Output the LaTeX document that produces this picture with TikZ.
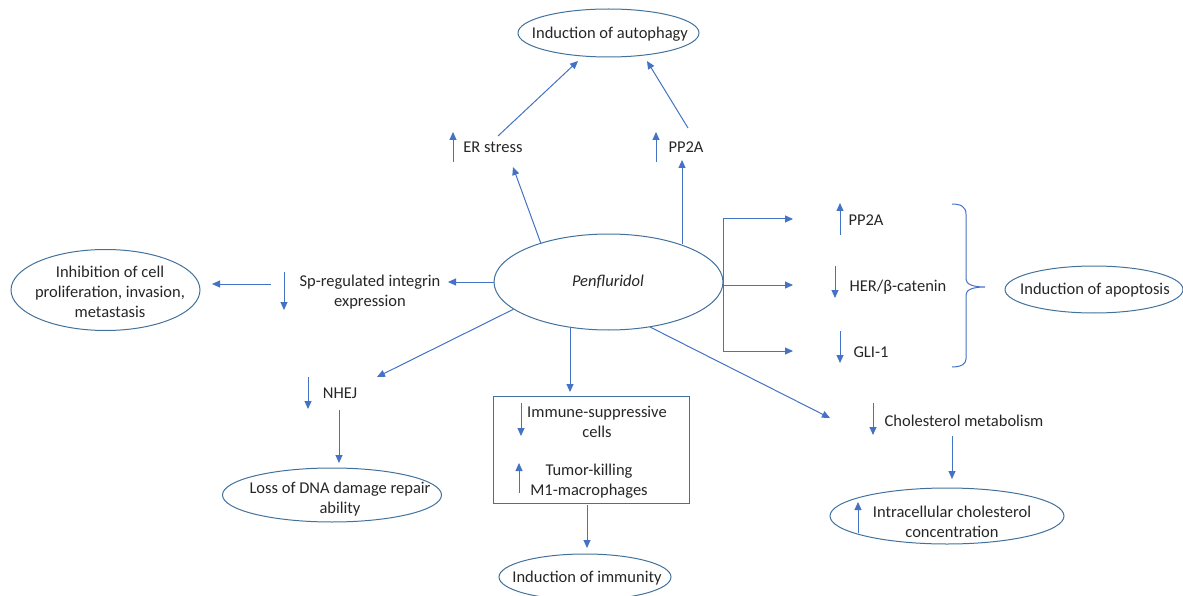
\documentclass[tikz,border=0pt]{standalone}
\usepackage{fontspec}
\setmainfont{Carlito}
\usetikzlibrary{arrows.meta,shapes.geometric,calc}
\definecolor{lblue}{HTML}{4472C4}
\definecolor{eblue}{HTML}{41719C}
\definecolor{txt}{HTML}{262626}
\begin{document}
\begin{tikzpicture}[x=1pt,y=-1pt,
  font=\fontsize{16.5}{20}\selectfont, text=txt,
  conn/.style={draw=lblue, line width=1pt},
  arr/.style={conn, -{Triangle[length=8pt,width=7pt]}},
  oval/.style={ellipse, draw=eblue, line width=1pt, inner sep=0pt},
  lbl/.style={inner sep=0pt, align=center}]
\useasboundingbox (0,0) rectangle (1183,596);

% ellipses
\node[oval, minimum width=181pt, minimum height=48pt] (auto) at (608.5,33) {};
\node[lbl] (autoT) at (610,34) {Induction of autophagy};
\node[oval, minimum width=229pt, minimum height=96pt] (pen) at (608.5,282) {};
\node[lbl] (penT) at (608,282) {\itshape Penfluridol};
\node[oval, minimum width=189pt, minimum height=81pt] (inh) at (105.5,290) {};
\node[lbl] (inhT) at (110,292) {Inhibition of cell\\proliferation, invasion,\\metastasis};
\node[oval, minimum width=178pt, minimum height=47pt] (apo) at (1094,289.5) {};
\node[lbl] (apoT) at (1095,290) {Induction of apoptosis};
\node[oval, minimum width=219pt, minimum height=54pt] (loss) at (332,495) {};
\node[lbl] (lossT) at (340,499) {Loss of DNA damage repair\\ability};
\node[oval, minimum width=172pt, minimum height=46pt] (imm) at (585,577) {};
\node[lbl] (immT) at (587,578) {Induction of immunity};
\node[oval, minimum width=234pt, minimum height=56pt] (chol) at (947,516) {};
\node[lbl] (cholT) at (952,521.5) {Intracellular cholesterol\\concentration};

% box
\node[draw=eblue, line width=0.9pt, minimum width=196pt, minimum height=107pt, inner sep=0pt] (box) at (591,449.5) {};
\node[lbl] (isc) at (597,422) {Immune-suppressive\\cells};
\node[lbl] (tk) at (589,481) {Tumor-killing\\M1-macrophages};

% text labels
\node[lbl] (er) at (493,147) {ER stress};
\node[lbl] (ppa) at (686,147) {PP2A};
\node[lbl] (ppb) at (866,220) {PP2A};
\node[lbl] (her) at (898,287) {HER/β-catenin};
\node[lbl] (gli) at (871,352) {GLI-1};
\node[lbl] (sp) at (370,292) {Sp-regulated integrin\\expression};
\node[lbl] (nhej) at (340,393) {NHEJ};
\node[lbl] (cm) at (964,421) {Cholesterol metabolism};

% coordinates for connector ends
\coordinate (erTip) at (513,167);
\coordinate (erOut) at (498,136);
\coordinate (autoL) at (578,61);
\coordinate (ppaOut) at (688,128);
\coordinate (autoR) at (647,61);
\coordinate (ppaIn) at (682,244);
\coordinate (ppaTip) at (682,160);
\coordinate (spTip) at (448,282);
\coordinate (spOut) at (271,284);
\coordinate (inhTip) at (212,284);
\coordinate (nhejTip) at (377,377);
\coordinate (nhejOut) at (339,410);
\coordinate (lossTip) at (339,463);
\coordinate (boxIn) at (570,327);
\coordinate (boxTip) at (570,392);
\coordinate (boxOut) at (587,505);
\coordinate (immTip) at (587,548);
\coordinate (cmIn) at (650,327);
\coordinate (cmTip) at (830,418);
\coordinate (cmOut) at (952,436);
\coordinate (cholTip) at (952,479);
\coordinate (bTop) at (723,219);
\coordinate (bBot) at (723,351);

% connectors
\draw[arr] (pen.150) -- (erTip);
\draw[arr] (ppaIn) -- (ppaTip);
\draw[arr] (erOut) -- (autoL);
\draw[arr] (ppaOut) -- (autoR);
\draw[arr] (pen.west) -- (spTip);
\draw[arr] (spOut) -- (inhTip);
\draw[arr] (pen.196) -- (nhejTip);
\draw[arr] (nhejOut) -- (lossTip);
\draw[arr] (boxIn) -- (boxTip);
\draw[arr] (boxOut) -- (immTip);
\draw[arr] (cmIn) -- (cmTip);
\draw[arr] (cmOut) -- (cholTip);
\draw[conn] (bTop) -- (bBot);
\draw[arr] (bTop) -- ++(70,0);
\draw[arr] (pen.east |- 0,285) -- (793,285);
\draw[arr] (bBot) -- ++(70,0);

% indicator arrows
\draw[arr] (453,162) -- (453,132);
\draw[arr] (656,162) -- (656,132);
\draw[arr] (840,235) -- (840,203);
\draw[arr] (835,266) -- (835,298);
\draw[arr] (840,331) -- (840,363);
\draw[arr] (284,272) -- (284,310);
\draw[arr] (308,377) -- (308,409);
\draw[arr] (521,403) -- (521,436);
\draw[arr] (519,493) -- (519,463);
\draw[arr] (873,403) -- (873,435);
\draw[arr] (858,533) -- (858,502);

% brace
\draw[conn] (952,204) .. controls (961,204) and (966,207) .. (966,214)
  -- (966,279) .. controls (966,284) and (972,287) .. (985,287)
  .. controls (972,287) and (966,290) .. (966,295)
  -- (966,359) .. controls (966,364) and (961,367) .. (952,367);
\end{tikzpicture}
\end{document}
